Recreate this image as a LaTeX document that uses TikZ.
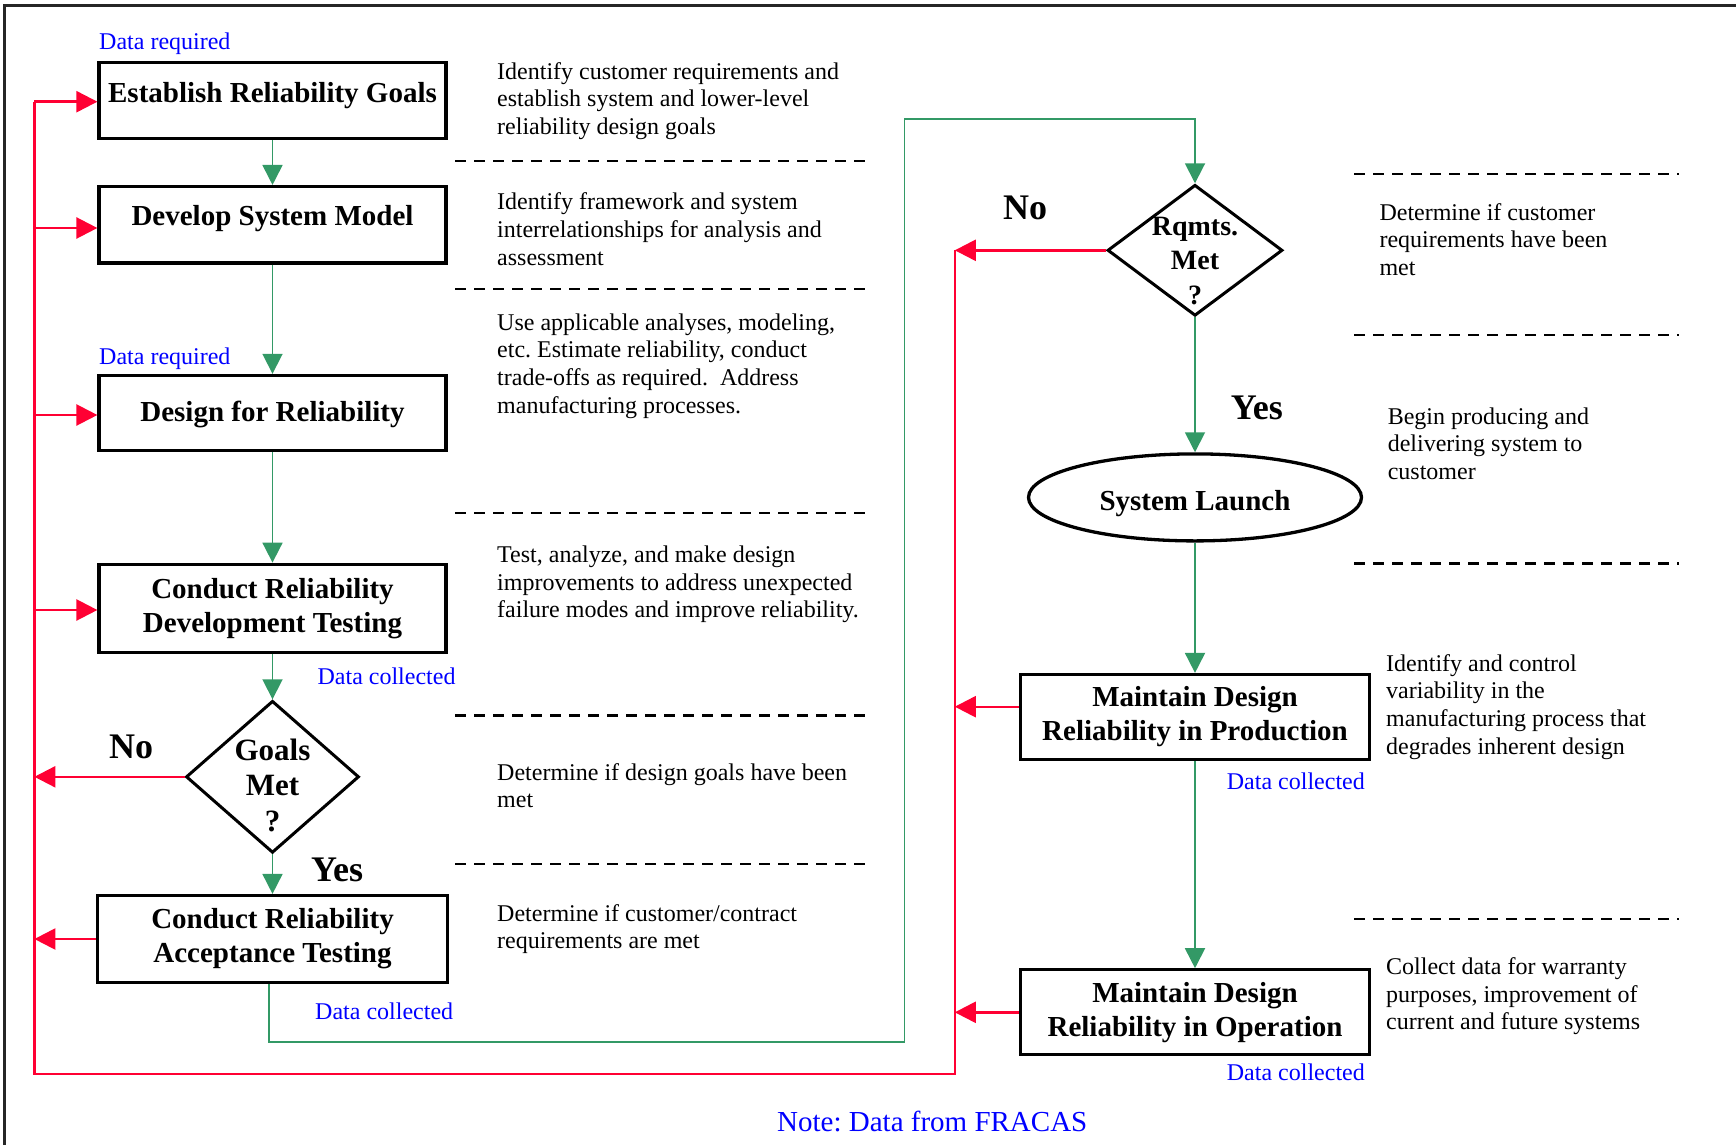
\documentclass[tikz,border=0pt]{standalone}
\usepackage{fontspec}
\setmainfont{Liberation Serif}
\usetikzlibrary{shapes.geometric,arrows.meta,calc}
\definecolor{flowgreen}{RGB}{51,153,102}
\definecolor{flowred}{RGB}{255,0,51}
\definecolor{labelblue}{RGB}{0,0,255}
\begin{document}
\begin{tikzpicture}[x=1pt,y=-1pt,
  box/.style={draw=black, line width=3.2pt, rectangle, minimum width=347pt, inner sep=0pt, align=center, font=\fontsize{29}{34}\selectfont\bfseries},
  decision/.style={draw=black, line width=3pt, diamond, inner sep=0pt},
  dtext/.style={align=center, inner sep=0pt},
  launch/.style={draw=black, line width=3.3pt, ellipse, inner sep=0pt, minimum width=333pt, minimum height=87pt, font=\fontsize{29}{34}\selectfont\bfseries},
  desc/.style={anchor=base west, align=left, inner sep=0pt, font=\fontsize{24}{27.7}\selectfont},
  datalbl/.style={anchor=base west, inner sep=0pt, text=labelblue, font=\fontsize{24}{28}\selectfont},
  notelbl/.style={anchor=base west, inner sep=0pt, text=labelblue, font=\fontsize{29}{34}\selectfont},
  yn/.style={anchor=base west, inner sep=0pt, font=\fontsize{36}{40}\selectfont\bfseries},
  sepline/.style={line width=2.6pt, dash pattern=on 11.3pt off 7.7pt},
  greenarrow/.style={draw=flowgreen, line width=1.8pt, -{Triangle[length=20pt,width=20pt]}},
  redline/.style={draw=flowred, line width=2.4pt},
  redarrow/.style={draw=flowred, line width=2.4pt, -{Triangle[length=21pt,width=21pt]}}
]
\useasboundingbox (0,0) rectangle (1736,1145);
% frame
\draw[line width=2.5pt, black!85] (4.5,1145) -- (4.5,5.5) -- (1736,5.5);

% left column boxes
\node[box, minimum height=76pt, text height=20pt, text depth=16pt] (b1) at (272.5,100.5) {Establish Reliability Goals};
\node[box, minimum height=76.5pt, text height=20pt, text depth=18pt] (b2) at (272.5,224.8) {Develop System Model};
\node[box, minimum height=75pt, text height=20pt, text depth=2pt] (b3) at (272.5,412.9) {Design for Reliability};
\node[box, minimum height=88pt] (b4) at (272.5,608.2) {Conduct Reliability\\Development Testing};
\node[decision, minimum width=173pt, minimum height=152pt] (d1) at (272.5,776.8) {};
\node[dtext, font=\fontsize{31}{35.5}\selectfont\bfseries] (d1t) at (272.5,785) {Goals\\Met\\?};
\node[box, minimum height=87pt, minimum width=349.4pt] (b5) at (272.5,939) {Conduct Reliability\\Acceptance Testing};

% right column
\node[decision, minimum width=175pt, minimum height=131pt] (d2) at (1195,250.3) {};
\node[dtext, font=\fontsize{28}{34.2}\selectfont\bfseries] (d2t) at (1195,261) {Rqmts.\\Met\\?};
\node[launch, text height=27pt, text depth=1pt] (sl) at (1195,497.4) {System Launch\hspace{12pt}};
\node[box, minimum height=85pt, minimum width=348.6pt] (b6) at (1195,717) {Maintain Design\\Reliability in Production};
\node[box, minimum height=85pt, minimum width=348.6pt] (b7) at (1195,1012.3) {Maintain Design\\Reliability in Operation};

% labels
\node[datalbl] (dr1) at (99,50) {Data required};
\node[datalbl] (dr2) at (99,364) {Data required};
\node[datalbl] (dc1) at (317.4,684) {Data collected};
\node[datalbl] (dc2) at (315,1019) {Data collected};
\node[datalbl] (dc3) at (1226.7,789) {Data collected};
\node[datalbl] (dc4) at (1226.7,1080) {Data collected};
\node[notelbl] (note) at (777,1131) {Note:\ Data from FRACAS};
\node[yn] (no1) at (109,758) {No};
\node[yn] (yes1) at (310.8,881) {Yes};
\node[yn] (no2) at (1003,219.4) {No};
\node[yn] (yes2) at (1230.6,419) {Yes};

% descriptions (anchor = baseline of the last line)
\node[desc] (t1) at (497,134.4) {Identify customer requirements and\\establish system and lower-level\\reliability design goals};
\node[desc] (t2) at (497,265) {Identify framework and system\\interrelationships for analysis and\\assessment};
\node[desc] (t3) at (497,413.1) {Use applicable analyses, modeling,\\etc.\ Estimate reliability, conduct\\trade-offs as required.\ \ Address\\manufacturing processes.};
\node[desc] (t4) at (497,617.9) {Test, analyze, and make design\\improvements to address unexpected\\failure modes and improve reliability.};
\node[desc] (t5) at (497,807.7) {Determine if design goals have been\\met};
\node[desc] (t6) at (497,948.7) {Determine if customer/contract\\requirements are met};
\node[desc] (t7) at (1379.3,275.4) {Determine if customer\\requirements have been\\met};
\node[desc] (t8) at (1387.6,479.4) {Begin producing and\\delivering system to\\customer};
\node[desc] (t9) at (1386,754.1) {Identify and control\\variability in the\\manufacturing process that\\degrades inherent design};
\node[desc] (t10) at (1386,1029.9) {Collect data for warranty\\purposes, improvement of\\current and future systems};

% separators
\foreach \yy in {161,289,513,715.6,864} \draw[sepline] (455,\yy) -- (866,\yy);
\foreach \yy in {174,334.8,563.5,919} \draw[sepline] (1354,\yy) -- (1679,\yy);

% green flow
\draw[greenarrow] (b1) -- (b2);
\draw[greenarrow] (b2) -- (b3);
\draw[greenarrow] (b3) -- (b4);
\draw[greenarrow] (b4) -- (d1);
\draw[greenarrow] (d1) -- (b5);
\coordinate (g1) at (268.6,1042.2);
\coordinate (g2) at (904.5,1042.2);
\coordinate (g3) at (904.5,118.8);
\draw[greenarrow] (g1 |- b5.south) -- (g1) -- (g2) -- (g3) -- (g3 -| d2.north) -- (d2.north);
\draw[greenarrow] (d2) -- (sl);
\draw[greenarrow] (sl) -- (b6);
\draw[greenarrow] (b6) -- (b7);

% red feedback
\coordinate (r1) at (34.4,101.7);
\coordinate (r2) at (34.4,228);
\coordinate (r3) at (34.4,415);
\coordinate (r4) at (34.4,610);
\coordinate (rb) at (34.4,1073.7);
\coordinate (rc) at (954.8,1073.7);
\coordinate (r6) at (954.8,706.7);
\draw[redline] (r1) -- (rb) -- (rc) -- (rc |- d2.west);
\draw[redarrow] (r1) -- (r1 -| b1.west);
\draw[redarrow] (r2) -- (r2 -| b2.west);
\draw[redarrow] (r3) -- (r3 -| b3.west);
\draw[redarrow] (r4) -- (r4 -| b4.west);
\draw[redarrow] (d1.west) -- (d1.west -| r1);
\draw[redarrow] (b5.west) -- (b5.west -| r1);
\draw[redarrow] (d2.west) -- (d2.west -| rc);
\draw[redarrow] (r6 -| b6.west) -- (r6);
\draw[redarrow] (b7.west) -- (b7.west -| rc);
\end{tikzpicture}
\end{document}
